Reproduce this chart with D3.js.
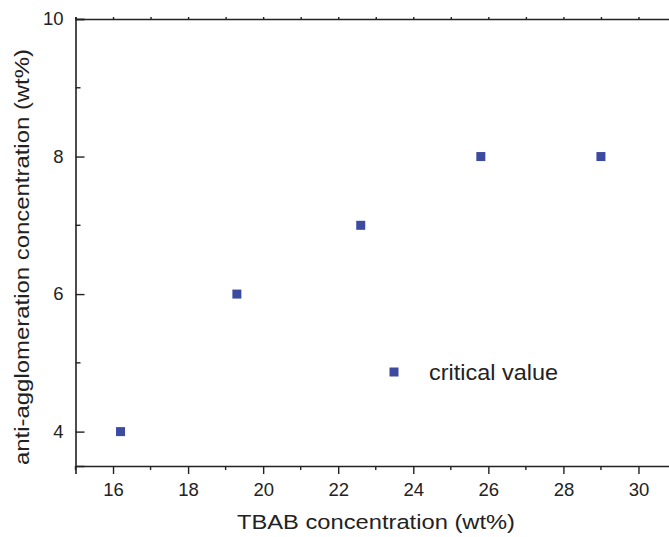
<!DOCTYPE html>
<html>
<head>
<meta charset="utf-8">
<script src="https://cdn.jsdelivr.net/npm/d3@7"></script>
<style>
  body { margin: 0; background: #fff; }
  text { font-family: "Liberation Sans", Arial, sans-serif; fill: #222; }
</style>
</head>
<body>
<div id="chart"></div>
<script>
// data
const tbab = [16.2, 19.3, 22.6, 25.8, 29]
const antiAgg = [4, 6, 7, 8, 8]
const xTicks = [16, 18, 20, 22, 24, 26, 28, 30]
const yTicks = [4, 6, 8, 10]
const seriesName = 'critical value'

const width = 669
const height = 537
const margin = { top: 19, left: 75.5, right: -7, bottom: 71 }

const svg = d3.select('#chart')
  .append('svg')
  .attr('width', width)
  .attr('height', height)

const x = d3.scaleLinear()
  .domain([15, 31])
  .range([margin.left, width - margin.right])

const y = d3.scaleLinear()
  .domain([3.5, 10])
  .range([height - margin.bottom, margin.top])

const minorX = d3.range(15, 32, 1).filter(d => xTicks.indexOf(d) < 0)
const minorY = [5, 7, 9]

// bottom axis, ticks pointing out
const xAxis = svg.append('g')
  .attr('transform', `translate(0,${y(3.5)})`)
xAxis.call(d3.axisBottom(x).tickValues(xTicks).tickSize(8).tickPadding(9).tickFormat(d3.format('d')))
xAxis.selectAll('.minor')
  .data(minorX)
  .enter()
  .append('line')
  .attr('x1', d => x(d))
  .attr('x2', d => x(d))
  .attr('y1', 0)
  .attr('y2', 4)

// left axis, ticks pointing in
const yAxis = svg.append('g')
  .attr('transform', `translate(${x(15)},0)`)
yAxis.call(d3.axisLeft(y).tickValues(yTicks).tickSize(-9).tickPadding(12).tickFormat(d3.format('d')))
yAxis.selectAll('.minor')
  .data(minorY)
  .enter()
  .append('line')
  .attr('y1', d => y(d))
  .attr('y2', d => y(d))
  .attr('x1', 0)
  .attr('x2', 5)

// top axis, tiny ticks
const topAxis = svg.append('g')
  .attr('transform', `translate(0,${y(10)})`)
topAxis.call(d3.axisTop(x).tickValues(d3.range(15, 32, 1)).tickSize(2).tickFormat(''))

svg.selectAll('.domain').attr('stroke', '#222').attr('stroke-width', 1.6)
svg.selectAll('line').attr('stroke', '#222').attr('stroke-width', 1.4)
svg.selectAll('.tick text').style('font-size', '18.5px').attr('fill', '#222')

// points
const points = tbab.map((d, i) => ({ x: d, y: antiAgg[i] }))
const size = 9
svg.selectAll('.pt')
  .data(points)
  .enter()
  .append('rect')
  .attr('class', 'pt')
  .attr('x', d => x(d.x) - size / 2)
  .attr('y', d => y(d.y) - size / 2)
  .attr('width', size)
  .attr('height', size)
  .attr('fill', '#3c4ba0')

// legend
svg.append('rect')
  .attr('x', 394 - size / 2)
  .attr('y', 372 - size / 2)
  .attr('width', size)
  .attr('height', size)
  .attr('fill', '#3c4ba0')
svg.append('text')
  .text(seriesName)
  .attr('x', 429)
  .attr('y', 380)
  .attr('textLength', 129)
  .attr('lengthAdjust', 'spacingAndGlyphs')
  .style('font-size', '22.5px')

// axis titles
svg.append('text')
  .text('TBAB concentration (wt%)')
  .attr('x', 376)
  .attr('y', 529)
  .attr('text-anchor', 'middle')
  .attr('textLength', 278)
  .attr('lengthAdjust', 'spacingAndGlyphs')
  .style('font-size', '20.5px')

svg.append('text')
  .text('anti-agglomeration concentration (wt%)')
  .attr('transform', 'translate(29,257) rotate(-90)')
  .attr('text-anchor', 'middle')
  .attr('textLength', 416)
  .attr('lengthAdjust', 'spacingAndGlyphs')
  .style('font-size', '20.5px')
</script>
</body>
</html>
